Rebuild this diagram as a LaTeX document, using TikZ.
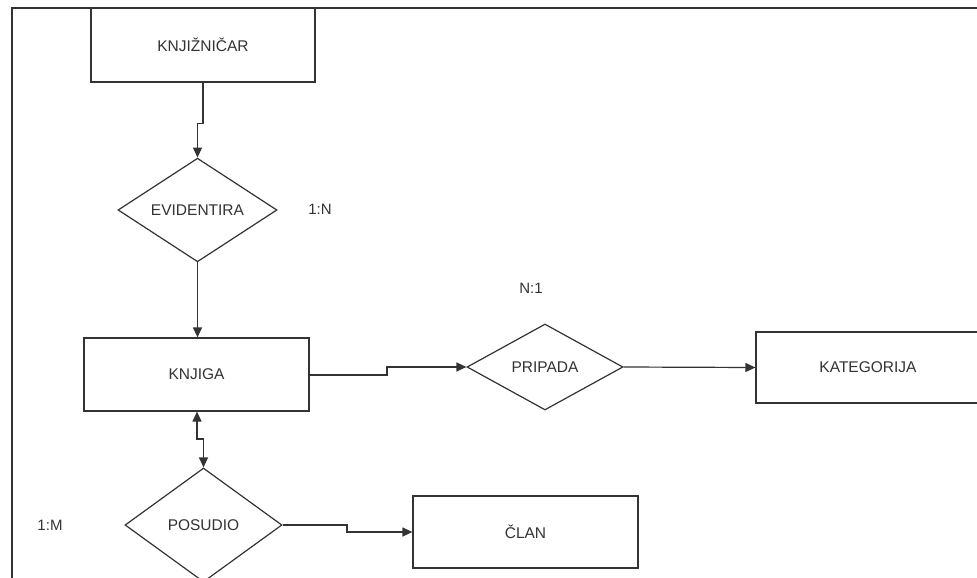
\documentclass[tikz,border=0pt]{standalone}
\usepackage{fontspec}
\setmainfont{Liberation Sans}
\usetikzlibrary{shapes.geometric,arrows.meta}
\begin{document}
\begin{tikzpicture}[x=1pt,y=-1pt,
  ink/.style={draw=black!80,line width=1.2pt},
  entity/.style={ink,rectangle,inner sep=0pt,font=\fontsize{15.5}{18}\selectfont,text=black!80},
  relation/.style={ink,diamond,inner sep=0pt,font=\fontsize{15.5}{18}\selectfont,text=black!80},
  card/.style={font=\fontsize{15}{18}\selectfont,text=black!80},
  link/.style={ink,-{Triangle[length=10pt,width=9pt]}},
  biLink/.style={ink,{Triangle[length=10pt,width=9pt]}-{Triangle[length=10pt,width=9pt]}}]
  \useasboundingbox (0,0) rectangle (977,578);
  \clip (0,0) rectangle (977,578);
  \fill[white] (0,0) rectangle (977,578);

  % outer frame (top and left edges)
  \draw[ink] (12,590) -- (12,8) -- (990,8);

  % entities
  \node[entity,minimum width=224pt,minimum height=74pt] (knjiznicar) at (203,45) {KNJIŽNIČAR};
  \node[entity,minimum width=225pt,minimum height=73pt] (knjiga) at (196.5,374.5) {KNJIGA};
  \node[entity,minimum width=224pt,minimum height=71pt] (kategorija) at (868,367.5) {KATEGORIJA};
  \node[entity,minimum width=225pt,minimum height=72pt] (clan) at (525.5,532) {ČLAN};

  % relationships
  \node[relation,minimum width=159pt,minimum height=84pt] (evidentira) at (197.5,210) {EVIDENTIRA};
  \node[relation,minimum width=156pt,minimum height=86pt] (pripada) at (545,367) {PRIPADA};
  \node[relation,minimum width=157pt,minimum height=114pt] (posudio) at (203.5,525) {POSUDIO};

  % cardinalities
  \node[card] (cEvid) at (320,209) {1:N};
  \node[card] (cPrip) at (531,288) {N:1};
  \node[card] (cPos) at (50,525) {1:M};

  % connectors
  \draw[link] (knjiznicar.south) -- ++(0,41) -| (evidentira.north);
  \draw[link] (evidentira.south) -- (evidentira.south |- knjiga.north);
  \draw[link] (knjiga.east |- 0,375) -- (387,375) |- (pripada.west);
  \draw[link] (pripada.east) -- (kategorija.west);
  \draw[biLink] (knjiga.south -| 197,0) -- (197,439) -| (posudio.north);
  \draw[link] (posudio.east) -- (347,525) |- (clan.west);
\end{tikzpicture}
\end{document}
